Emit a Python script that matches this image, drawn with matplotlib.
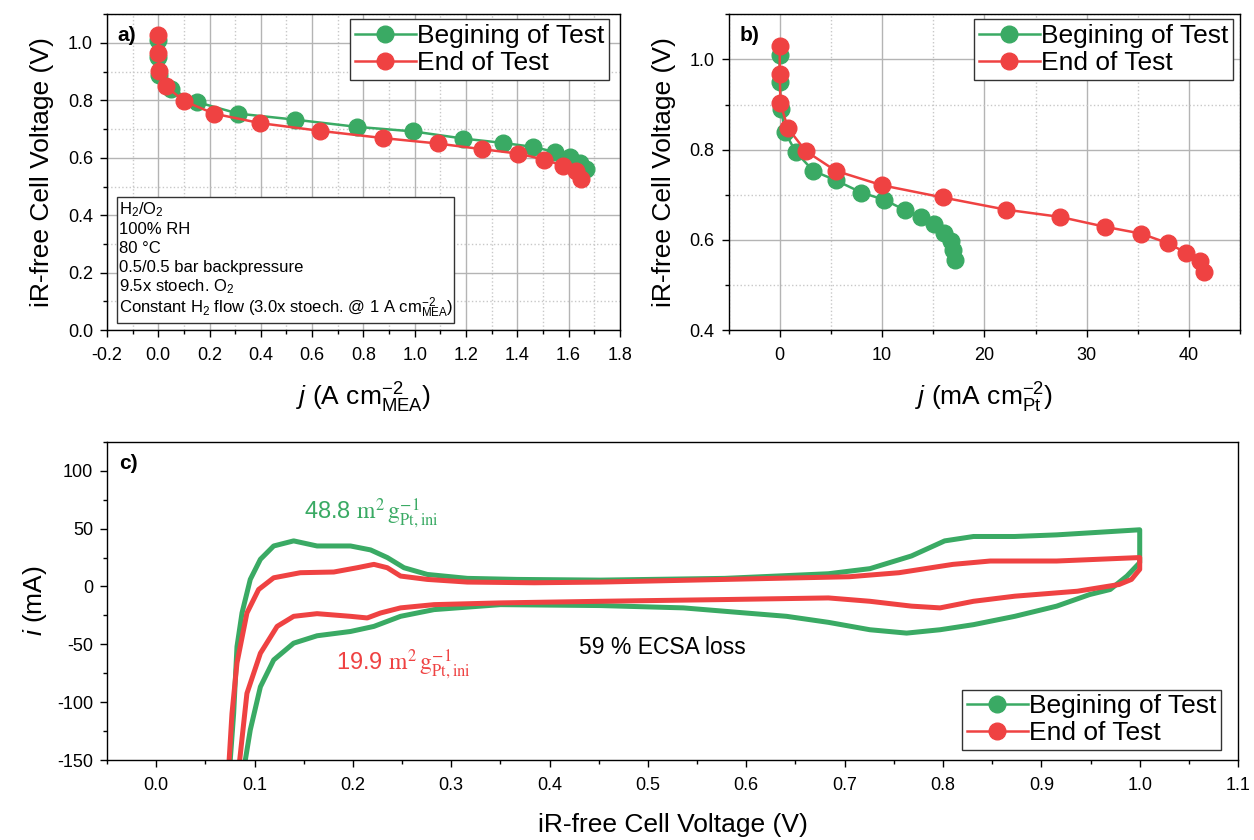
import matplotlib
matplotlib.use("Agg")
import matplotlib.pyplot as plt
from matplotlib.ticker import MultipleLocator, FormatStrFormatter
from matplotlib.patches import Rectangle

plt.rcParams['font.family'] = ['Liberation Sans', 'DejaVu Sans']
plt.rcParams['mathtext.fontset'] = 'custom'
plt.rcParams['mathtext.rm'] = 'Liberation Sans'
plt.rcParams['mathtext.it'] = 'Liberation Sans:italic'
plt.rcParams['mathtext.bf'] = 'Liberation Sans:bold'
plt.rcParams['axes.unicode_minus'] = False

GREEN = '#3aaa64'
RED = '#ef4242'

# panel a: polarisation curve vs geometric current density (A cm-2 MEA)
bot_j_mea = [0.0, 0.0, 0.004, 0.048, 0.152, 0.312, 0.533, 0.774, 0.995, 1.190, 1.344, 1.463, 1.548, 1.604, 1.643, 1.669]
bot_v_a = [1.010, 0.950, 0.890, 0.840, 0.794, 0.754, 0.733, 0.708, 0.692, 0.667, 0.652, 0.638, 0.620, 0.603, 0.583, 0.561]
eot_j_mea = [0.0, 0.0, 0.003, 0.030, 0.100, 0.217, 0.397, 0.631, 0.875, 1.089, 1.264, 1.402, 1.506, 1.580, 1.630, 1.649]
eot_v_a = [1.028, 0.965, 0.904, 0.849, 0.798, 0.754, 0.721, 0.694, 0.669, 0.650, 0.630, 0.615, 0.594, 0.572, 0.555, 0.528]

# panel b: vs Pt specific current density (mA cm-2 Pt)
bot_j_pt = [0.0, 0.0, 0.14, 0.5, 1.57, 3.27, 5.48, 7.97, 10.2, 12.24, 13.77, 15.1, 16.05, 16.7, 16.94, 17.15]
bot_v_b = [1.009, 0.950, 0.891, 0.839, 0.795, 0.753, 0.732, 0.705, 0.689, 0.666, 0.651, 0.635, 0.616, 0.598, 0.577, 0.556]
eot_j_pt = [0.0, 0.0, 0.07, 0.78, 2.53, 5.48, 10.0, 15.94, 22.1, 27.37, 31.8, 35.3, 37.9, 39.75, 41.07, 41.5]
eot_v_b = [1.029, 0.967, 0.903, 0.848, 0.797, 0.753, 0.721, 0.694, 0.667, 0.651, 0.629, 0.614, 0.593, 0.571, 0.553, 0.529]

# panel c: cyclic voltammograms (V, mA)
bot_cv_v = [0.0745, 0.0788, 0.0822, 0.0873, 0.0957, 0.106, 0.1195, 0.1398, 0.1636, 0.1976, 0.218, 0.235,
            0.252, 0.2757, 0.3164, 0.367, 0.452, 0.578, 0.6835, 0.7257, 0.768, 0.8017, 0.831, 0.873, 0.9156,
            1.0, 1.0, 0.987, 0.97, 0.949, 0.9156, 0.873, 0.831, 0.797, 0.763, 0.7257, 0.6835, 0.641, 0.599,
            0.536, 0.452, 0.350, 0.2825, 0.2485, 0.2214, 0.1976, 0.1636, 0.1398, 0.1195, 0.106, 0.0957,
            0.0906, 0.089]
bot_cv_i = [-160, -109.8, -51.9, -22.9, 6.1, 23.5, 35, 39.4, 35, 35, 31.6, 25,
            16.2, 10.4, 7, 6.1, 5.5, 7, 11, 15.4, 26.4, 39.4, 43.2, 43.2, 44.6,
            49, 20.6, 9, -2.6, -7, -17, -25.8, -33, -37.4, -40.3, -37.4, -31, -25.8, -22.9,
            -18.5, -16.5, -15.7, -20, -25.8, -34.5, -38.9, -42.6, -49, -63.5, -86.7, -124,
            -150.4, -160]
eot_cv_v = [0.0735, 0.0771, 0.0822, 0.0923, 0.1042, 0.1195, 0.1466, 0.1806, 0.2044, 0.2214, 0.235, 0.2485,
            0.2757, 0.3164, 0.3843, 0.452, 0.578, 0.7046, 0.7553, 0.81, 0.848, 0.9156, 1.0, 1.0, 0.9916,
            0.979, 0.9367, 0.873, 0.831, 0.797, 0.768, 0.7257, 0.6835, 0.578, 0.452, 0.35, 0.2825, 0.2485,
            0.2282, 0.2146, 0.1976, 0.1636, 0.1398, 0.123, 0.106, 0.0923, 0.0849, 0.0843]
eot_cv_i = [-160, -109.8, -66, -22.9, -2.6, 7.5, 11.9, 12.5, 16.2, 19.1, 16.2, 9,
            6.1, 3.8, 3.2, 3.8, 6.1, 8.4, 11.9, 19.1, 22, 22, 25, 14.8, 6.1,
            1.7, -4.1, -8.4, -12.8, -18.5, -17, -12.8, -9.9, -11.3, -12.8, -14.2, -15.7, -18.5,
            -22.9, -27.2, -25.8, -23.5, -25.8, -34.5, -57.7, -92.4, -150.4, -160]

conditions = [r"H$_2$/O$_2$", "100% RH", "80 °C", "0.5/0.5 bar backpressure",
              r"9.5x stoech. O$_2$", r"Constant H$_2$ flow (3.0x stoech. @ 1 A cm$^{-2}_{\mathrm{MEA}}$)"]
cond_y = [0.383, 0.320, 0.259, 0.199, 0.139, 0.070]

labels = ["Begining of Test", "End of Test"]

fig = plt.figure(figsize=(12.54, 8.4), dpi=100)
ax_a = fig.add_axes([0.0853, 0.607, 0.409, 0.376])
ax_b = fig.add_axes([0.581, 0.607, 0.408, 0.376])
ax_c = fig.add_axes([0.0853, 0.0952, 0.9020, 0.3788])

LBL = 19
TCK = 13
LEG = dict(borderaxespad=0, fontsize=19, frameon=True, fancybox=False, edgecolor='#333333',
           framealpha=1, borderpad=0.18, labelspacing=0.12, handlelength=2.3,
           handletextpad=0.05, numpoints=1)

def style(ax):
    ax.tick_params(which='major', direction='out', length=5, width=1, labelsize=TCK)
    ax.tick_params(which='minor', direction='out', length=3, width=1)
    ax.tick_params(axis='x', which='major', pad=7)
    ax.tick_params(axis='y', which='major', pad=5)
    for s in ax.spines.values():
        s.set_linewidth(1.0)

def add_grid(ax):
    ax.grid(which='major', color='#b4b4b4', linestyle='-', linewidth=1.0)
    ax.grid(which='minor', color='#c8c8c8', linestyle=':', linewidth=1.0)
    ax.set_axisbelow(True)

# a)
ax_a.plot(bot_j_mea, bot_v_a, '-o', color=GREEN, lw=1.8, ms=12, label=labels[0])
ax_a.plot(eot_j_mea, eot_v_a, '-o', color=RED, lw=1.8, ms=12, label=labels[1])
ax_a.set_xlim(-0.2, 1.8)
ax_a.set_ylim(0.0, 1.1)
ax_a.xaxis.set_major_locator(MultipleLocator(0.2))
ax_a.xaxis.set_minor_locator(MultipleLocator(0.1))
ax_a.yaxis.set_major_locator(MultipleLocator(0.2))
ax_a.yaxis.set_minor_locator(MultipleLocator(0.1))
ax_a.xaxis.set_major_formatter(FormatStrFormatter('%.1f'))
ax_a.yaxis.set_major_formatter(FormatStrFormatter('%.1f'))
add_grid(ax_a)
style(ax_a)
ax_a.set_xlabel(r"$j$ (A cm$^{-2}_{\mathrm{MEA}}$)", fontsize=LBL, labelpad=12)
ax_a.set_ylabel("iR-free Cell Voltage (V)", fontsize=LBL, labelpad=10)
ax_a.text(0.021, 0.962, "a)", transform=ax_a.transAxes, fontsize=15, fontweight='bold', va='top')
ax_a.add_patch(Rectangle((0.0195, 0.022), 0.657, 0.399, transform=ax_a.transAxes,
                         facecolor='white', edgecolor='#333333', lw=1.0, zorder=5))
for txt, yy in zip(conditions, cond_y):
    ax_a.text(0.024, yy, txt, transform=ax_a.transAxes, fontsize=12, va='center', zorder=6)
ax_a.legend(loc='upper right', bbox_to_anchor=(0.979, 0.984), **LEG)

# b)
ax_b.plot(bot_j_pt, bot_v_b, '-o', color=GREEN, lw=1.8, ms=12, label=labels[0])
ax_b.plot(eot_j_pt, eot_v_b, '-o', color=RED, lw=1.8, ms=12, label=labels[1])
ax_b.set_xlim(-5, 45)
ax_b.set_ylim(0.4, 1.1)
ax_b.xaxis.set_major_locator(MultipleLocator(10))
ax_b.xaxis.set_minor_locator(MultipleLocator(5))
ax_b.yaxis.set_major_locator(MultipleLocator(0.2))
ax_b.yaxis.set_minor_locator(MultipleLocator(0.1))
ax_b.yaxis.set_major_formatter(FormatStrFormatter('%.1f'))
add_grid(ax_b)
style(ax_b)
ax_b.set_xlabel(r"$j$ (mA cm$^{-2}_{\mathrm{Pt}}$)", fontsize=LBL, labelpad=12)
ax_b.set_ylabel("iR-free Cell Voltage (V)", fontsize=LBL, labelpad=10)
ax_b.text(0.021, 0.962, "b)", transform=ax_b.transAxes, fontsize=15, fontweight='bold', va='top')
ax_b.legend(loc='upper right', bbox_to_anchor=(0.986, 0.984), **LEG)

# c)
ax_c.plot(bot_cv_v, bot_cv_i, '-', color=GREEN, lw=3.6, solid_joinstyle='round')
ax_c.plot(eot_cv_v, eot_cv_i, '-', color=RED, lw=3.6, solid_joinstyle='round')
ax_c.plot([], [], '-o', color=GREEN, lw=1.8, ms=12, label=labels[0])
ax_c.plot([], [], '-o', color=RED, lw=1.8, ms=12, label=labels[1])
ax_c.set_xlim(-0.05, 1.1)
ax_c.set_ylim(-150, 125)
ax_c.xaxis.set_major_locator(MultipleLocator(0.1))
ax_c.xaxis.set_minor_locator(MultipleLocator(0.05))
ax_c.yaxis.set_major_locator(MultipleLocator(50))
ax_c.yaxis.set_minor_locator(MultipleLocator(25))
ax_c.xaxis.set_major_formatter(FormatStrFormatter('%.1f'))
style(ax_c)
ax_c.set_xlabel("iR-free Cell Voltage (V)", fontsize=LBL, labelpad=14)
ax_c.set_ylabel(r"$i$ (mA)", fontsize=LBL, labelpad=6)
ax_c.text(0.011, 0.962, "c)", transform=ax_c.transAxes, fontsize=15, fontweight='bold', va='top')
ax_c.text(0.150, 63, r"48.8 $\mathrm{m^2\,g^{-1}_{Pt,ini}}$", color=GREEN, fontsize=17,
          va='center', math_fontfamily='stix')
ax_c.text(0.183, -68, r"19.9 $\mathrm{m^2\,g^{-1}_{Pt,ini}}$", color=RED, fontsize=17,
          va='center', math_fontfamily='stix')
ax_c.text(0.43, -53, "59 % ECSA loss", color='black', fontsize=16.5, va='center')
ax_c.legend(loc='lower right', bbox_to_anchor=(0.985, 0.031), **LEG)

fig.savefig("out.png", dpi=100)
